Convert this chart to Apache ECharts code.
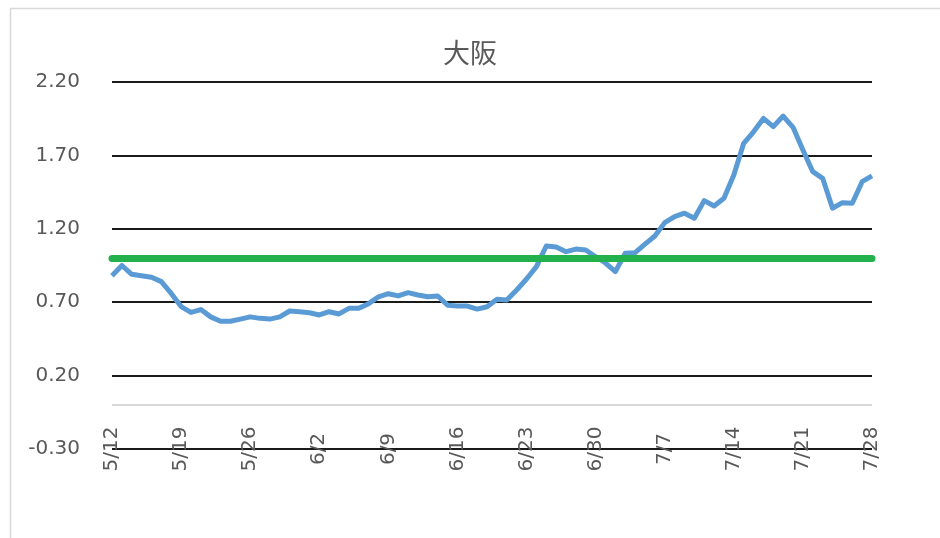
<!DOCTYPE html>
<html>
<head>
<meta charset="utf-8">
<script src="https://cdn.jsdelivr.net/npm/echarts@6/dist/echarts.min.js"></script>
<style>html,body{margin:0;padding:0;background:#fff;}#c{width:940px;height:538px;}</style>
</head>
<body>
<div id="c"></div>
<script>
const titleText = '大阪';
const dates = ['5/12','5/13','5/14','5/15','5/16','5/17','5/18','5/19','5/20','5/21','5/22','5/23','5/24','5/25','5/26','5/27','5/28','5/29','5/30','5/31',
'6/1','6/2','6/3','6/4','6/5','6/6','6/7','6/8','6/9','6/10','6/11','6/12','6/13','6/14','6/15','6/16','6/17','6/18','6/19','6/20','6/21','6/22','6/23','6/24','6/25','6/26','6/27','6/28','6/29','6/30',
'7/1','7/2','7/3','7/4','7/5','7/6','7/7','7/8','7/9','7/10','7/11','7/12','7/13','7/14','7/15','7/16','7/17','7/18','7/19','7/20','7/21','7/22','7/23','7/24','7/25','7/26','7/27','7/28'];
const osaka = [0.88,0.95,0.89,0.88,0.87,0.84,0.76,0.67,0.63,0.65,0.60,0.57,0.57,0.585,0.60,0.59,0.585,0.60,0.64,0.635,
0.628,0.613,0.635,0.62,0.658,0.658,0.69,0.737,0.758,0.743,0.765,0.749,0.737,0.742,0.68,0.674,0.674,0.653,0.669,0.72,0.715,0.783,0.858,0.942,1.083,1.076,1.044,1.062,1.056,1.01,
0.967,0.908,1.034,1.037,1.096,1.151,1.242,1.283,1.306,1.272,1.392,1.355,1.408,1.566,1.782,1.861,1.952,1.896,1.968,1.891,1.737,1.589,1.544,1.34,1.378,1.374,1.521,1.56];
const baseline = 1.0;
const yMin = -0.3, yMax = 2.2, yStep = 0.5;

const chart = echarts.init(document.getElementById('c'));
chart.setOption({
  animation: false,
  backgroundColor: '#fff',
  graphic: [{
    type: 'rect', left: 8, top: 6, shape: {width: 1000, height: 1000},
    style: {fill: 'none', stroke: '#d9d9d9', lineWidth: 1.5}, z: -1
  }],
  title: {
    text: titleText, left: 'center', top: 34,
    textStyle: {fontFamily: '"Noto Sans CJK JP"', fontSize: 27, fontWeight: 'normal', color: '#595959'}
  },
  grid: {left: 112, right: 68, top: 82, bottom: 89},
  xAxis: {
    type: 'category', data: dates, boundaryGap: false,
    axisLine: {show: false}, axisTick: {show: false},
    axisLabel: {interval: 6, rotate: 90, margin: 0, align: 'center', verticalAlign: 'middle',
      fontFamily: '"DejaVu Sans"', fontSize: 20, color: '#595959'},
    splitLine: {show: false}
  },
  yAxis: {
    type: 'value', min: yMin, max: yMax, interval: yStep,
    axisLine: {show: false}, axisTick: {show: false},
    axisLabel: {margin: 32, fontFamily: '"DejaVu Sans"', fontSize: 20, color: '#595959',
      formatter: v => v.toFixed(2)},
    splitLine: {lineStyle: {color: '#1a1a1a', width: 2}}
  },
  series: [{
    type: 'line', data: osaka, symbol: 'none', smooth: false,
    lineStyle: {color: '#5b9bd5', width: 5, join: 'round'},
    markLine: {
      silent: true, symbol: 'none', label: {show: false},
      data: [
        {yAxis: 0, lineStyle: {color: '#d9d9d9', width: 2, type: 'solid'}},
        {yAxis: baseline, lineStyle: {color: '#22b14c', width: 7, type: 'solid', cap: 'round'}}
      ]
    }
  }]
});
</script>
</body>
</html>
